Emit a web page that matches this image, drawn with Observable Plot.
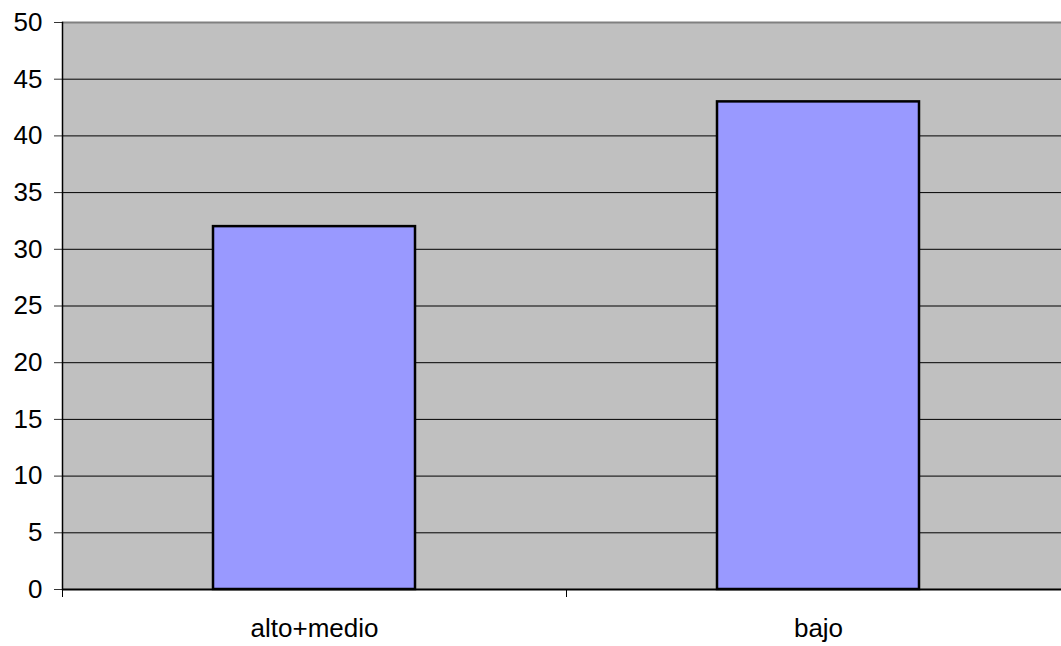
<!DOCTYPE html>
<html>
<head>
<meta charset="utf-8">
<script src="https://cdn.jsdelivr.net/npm/d3@7"></script>
<script src="https://cdn.jsdelivr.net/npm/@observablehq/plot@0.6"></script>
<style>
  html, body { margin: 0; padding: 0; background: #ffffff; overflow: hidden; }
  #chart svg { display: block; }
</style>
</head>
<body>
<div id="chart"></div>
<script>
// Categories and their values
const categories = ["alto+medio", "bajo"];
const values = [32, 43];
const yTicks = [0, 5, 10, 15, 20, 25, 30, 35, 40, 45, 50];

const data = categories.map((c, i) => ({category: c, value: values[i]}));

const width = 1061;
const height = 646;
const xRange = [62, 1070];
const step = (xRange[1] - xRange[0]) / categories.length;
const font = "'Liberation Sans', Arial, sans-serif";

const chart = Plot.plot({
  width,
  height,
  marginLeft: 62,
  marginRight: 0,
  marginTop: 22,
  marginBottom: 57,
  style: {fontFamily: font, background: "#ffffff", overflow: "hidden"},
  x: {domain: categories, range: xRange, paddingInner: 0.6, paddingOuter: 0.3, label: null},
  y: {domain: [0, 50], label: null},
  marks: [
    Plot.frame({fill: "#c0c0c0", stroke: null}),
    Plot.ruleY(yTicks.filter(d => d > 0 && d < 50), {stroke: "#000000", strokeWidth: 1}),
    Plot.ruleY([50], {stroke: "#808080", strokeWidth: 2}),
    Plot.barY(data, {x: "category", y: "value", fill: "#9999ff", stroke: "#000000", strokeWidth: 2.5}),
    Plot.axisY({ticks: yTicks, tickSize: 8, tickPadding: 12, fontSize: 26, stroke: "#333333", color: "#000000"}),
    Plot.frame({anchor: "left", stroke: "#000000", strokeWidth: 1.5}),
    Plot.ruleY([0], {stroke: "#000000", strokeWidth: 2}),
    // category boundary ticks below the baseline
    Plot.axisX({tickSize: 8, tickFormat: () => "", dx: -step / 2, stroke: "#000000"}),
    Plot.axisX({tickSize: 0, tickPadding: 29, fontSize: 26, color: "#000000"})
  ]
});

document.getElementById("chart").appendChild(chart);
</script>
</body>
</html>
